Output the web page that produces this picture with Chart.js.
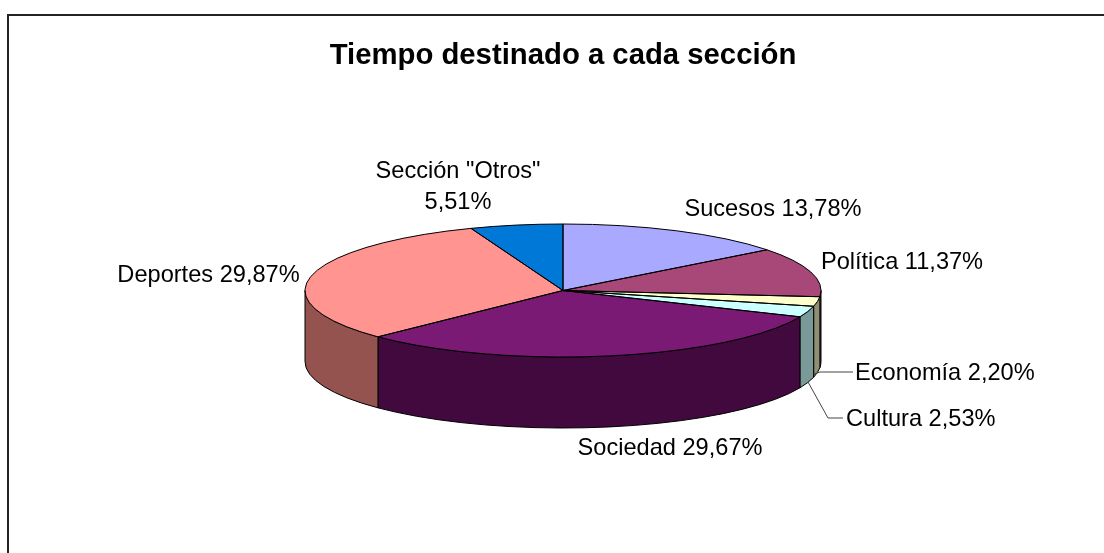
<!DOCTYPE html>
<html><head><meta charset="utf-8">
<style>html,body{margin:0;padding:0;background:#fff}canvas{display:block}</style>
<script src="https://cdn.jsdelivr.net/npm/chart.js@4"></script></head>
<body><div style="width:1104px;height:553px"><canvas id="c" width="1104" height="553"></canvas></div>
<script>
const categories = ['Sucesos','Política','Economía','Cultura','Sociedad','Deportes','Sección "Otros"'];
const values = [13.78,11.37,2.20,2.53,29.67,29.87,5.51];
const valueTexts = ['13,78%','11,37%','2,20%','2,53%','29,67%','29,87%','5,51%'];
const topColors = ['#A9A9FF','#A84878','#FFFFCC','#CCFFFF','#7B1A74','#FF9490','#0078D8'];
const wallColors = ['#7F7FBF','#7E365A','#8F8F73','#7A9999','#42093F','#95534F','#005AA2'];
const CX=563, CY=290.5, RX=258, RY=66.5, DEPTH=71;
const FONT='23.6px "Liberation Sans", Arial, sans-serif';

const labelPlacements = [
  {i:0,x:773,y:209,align:'center'},
  {i:1,x:902,y:262,align:'center'},
  {i:2,x:855,y:373,align:'left'},
  {i:3,x:846,y:419,align:'left'},
  {i:4,x:670,y:448,align:'center'},
  {i:5,x:208.5,y:275,align:'center'},
  {i:6,x:458,y:171,two:true}
];
const leaders=[[[853,372],[820,372],[814,374]],[[843,418],[828,418],[808,382]]];

function norm(a){const t=Math.PI*2;return ((a%t)+t)%t;}
const pie3d={
  id:'pie3d',
  beforeDatasetsDraw(chart){
    const ctx=chart.ctx, arcs=chart.getDatasetMeta(0).data;
    ctx.save();
    ctx.lineWidth=1;ctx.strokeStyle='#000';
    arcs.forEach((arc,i)=>{
      let a=norm(arc.startAngle), b=a+(arc.endAngle-arc.startAngle);
      const s=Math.max(a,0), e=Math.min(b,Math.PI);
      const parts=[];
      if(e>s)parts.push([s,e]);
      if(b>Math.PI*2){const e2=Math.min(b-Math.PI*2,Math.PI);parts.push([0,e2]);}
      parts.forEach(([p,q])=>{
        ctx.beginPath();
        ctx.ellipse(CX,CY,RX,RY,0,p,q);
        ctx.lineTo(CX+RX*Math.cos(q),CY+RY*Math.sin(q)+DEPTH);
        ctx.ellipse(CX,CY+DEPTH,RX,RY,0,q,p,true);
        ctx.closePath();
        ctx.fillStyle=wallColors[i];
        ctx.fill();ctx.stroke();
      });
    });
    ctx.restore();
    const arc0=arcs[0], R=arc0.outerRadius;
    ctx.save();
    ctx.translate(CX,CY);ctx.scale(RX/R,RY/R);ctx.translate(-arc0.x,-arc0.y);
  },
  afterDatasetsDraw(chart){
    const ctx=chart.ctx, arcs=chart.getDatasetMeta(0).data;
    ctx.restore();
    ctx.save();
    ctx.lineWidth=1;ctx.strokeStyle='#000';
    arcs.forEach(arc=>{
      ctx.beginPath();
      ctx.moveTo(CX,CY);
      ctx.ellipse(CX,CY,RX,RY,0,arc.startAngle,arc.endAngle);
      ctx.closePath();ctx.stroke();
    });
    ctx.strokeStyle='#444';
    leaders.forEach(l=>{ctx.beginPath();l.forEach((p,k)=>k?ctx.lineTo(p[0],p[1]):ctx.moveTo(p[0],p[1]));ctx.stroke();});
    ctx.fillStyle='#000';ctx.font=FONT;ctx.textBaseline='middle';
    labelPlacements.forEach(p=>{
      if(p.two){
        ctx.textAlign='center';
        ctx.fillText(categories[p.i],p.x,p.y);
        ctx.fillText(valueTexts[p.i],p.x,p.y+31);
      }else{
        ctx.textAlign=p.align;
        ctx.fillText(categories[p.i]+' '+valueTexts[p.i],p.x,p.y);
      }
    });
    ctx.restore();
  },
  beforeDraw(chart){
    const ctx=chart.ctx;
    ctx.save();ctx.fillStyle='#fff';ctx.fillRect(0,0,1104,553);
    ctx.strokeStyle='#222';ctx.lineWidth=2;
    ctx.beginPath();ctx.moveTo(8,553);ctx.lineTo(8,15);ctx.lineTo(1104,15);ctx.stroke();
    ctx.restore();
  }
};
new Chart(document.getElementById('c'),{
  type:'pie',
  data:{labels:categories,datasets:[{data:values,backgroundColor:topColors,borderWidth:0}]},
  options:{
    responsive:false,animation:false,
    layout:{padding:{top:38,left:22}},
    plugins:{
      legend:{display:false},tooltip:{enabled:false},
      title:{display:true,text:'Tiempo destinado a cada sección',color:'#000',
        font:{family:'"Liberation Sans", Arial, sans-serif',size:29.3,weight:'bold'},padding:{top:0,bottom:10}}
    }
  },
  plugins:[pie3d]
});
</script></body></html>
